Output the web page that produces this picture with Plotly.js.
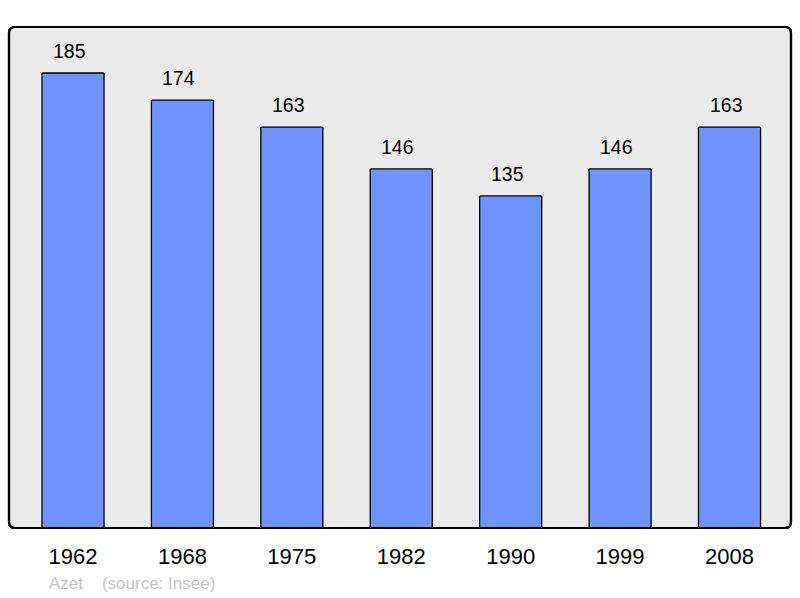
<!DOCTYPE html>
<html>
<head>
<meta charset="utf-8">
<script src="https://cdn.plot.ly/plotly-3.0.1.min.js"></script>
<style>html,body{margin:0;padding:0;background:#fff;}#chart{width:800px;height:598px;}</style>
</head>
<body>
<div id="chart"></div>
<script>
const years = ["1962", "1968", "1975", "1982", "1990", "1999", "2008"];
const population = [185, 174, 163, 146, 135, 146, 163];
const footerText = "Azet&nbsp;&nbsp;&nbsp;&nbsp;(source: Insee)";

const idx = years.map((_, i) => i);

const trace = {
  type: "bar",
  x: idx,
  y: population,
  width: 0.567,
  marker: { color: "#7094ff", line: { color: "#000", width: 1.3 }, cornerradius: 2 },
  hoverinfo: "skip"
};

const labelAnns = population.map((v, i) => ({
  x: i, y: v, xref: "x", yref: "y",
  text: String(v), showarrow: false,
  yanchor: "bottom", yshift: 9, xshift: -3.5,
  font: { family: "Liberation Sans, Arial, sans-serif", size: 19.5, color: "#000" }
}));

const W = 800, H = 598;
const L = 9, R = 791, T = 27, B = 528;
const rx = 6 / (R - L), ry = 6 / (B - T);
const framePath =
  `M ${rx},0 L ${1 - rx},0 Q 1,0 1,${ry} L 1,${1 - ry} Q 1,1 ${1 - rx},1 ` +
  `L ${rx},1 Q 0,1 0,${1 - ry} L 0,${ry} Q 0,0 ${rx},0 Z`;

const layout = {
  width: W, height: H,
  margin: { l: L, r: W - R, t: T, b: H - B, pad: 0 },
  paper_bgcolor: "#ffffff",
  plot_bgcolor: "rgba(0,0,0,0)",
  showlegend: false,
  bargap: 0,
  xaxis: {
    range: [-0.585, 6.562],
    tickmode: "array", tickvals: idx, ticktext: years,
    ticks: "outside", ticklen: 9, tickcolor: "rgba(0,0,0,0)",
    tickfont: { family: "Liberation Sans, Arial, sans-serif", size: 22, color: "#000" },
    showgrid: false, zeroline: false, showline: false, fixedrange: true
  },
  yaxis: {
    range: [0, 203.7],
    showticklabels: false, ticks: "", showgrid: false, zeroline: false, showline: false, fixedrange: true
  },
  shapes: [{
    type: "path", xref: "paper", yref: "paper", path: framePath,
    fillcolor: "#ebebeb", line: { color: "#000", width: 2.2 }, layer: "below"
  }, {
    type: "path", xref: "paper", yref: "paper", path: framePath,
    fillcolor: "rgba(0,0,0,0)", line: { color: "#000", width: 2.2 }, layer: "above"
  }],
  annotations: labelAnns.concat([{
    xref: "paper", yref: "paper", x: (47 - L) / (R - L), y: (B - 583) / (B - T),
    xanchor: "left", yanchor: "middle", showarrow: false,
    text: footerText,
    font: { family: "Liberation Sans, Arial, sans-serif", size: 17, color: "#c4c4c4" }
  }])
};

Plotly.newPlot("chart", [trace], layout, { displayModeBar: false, staticPlot: true });
</script>
</body>
</html>
